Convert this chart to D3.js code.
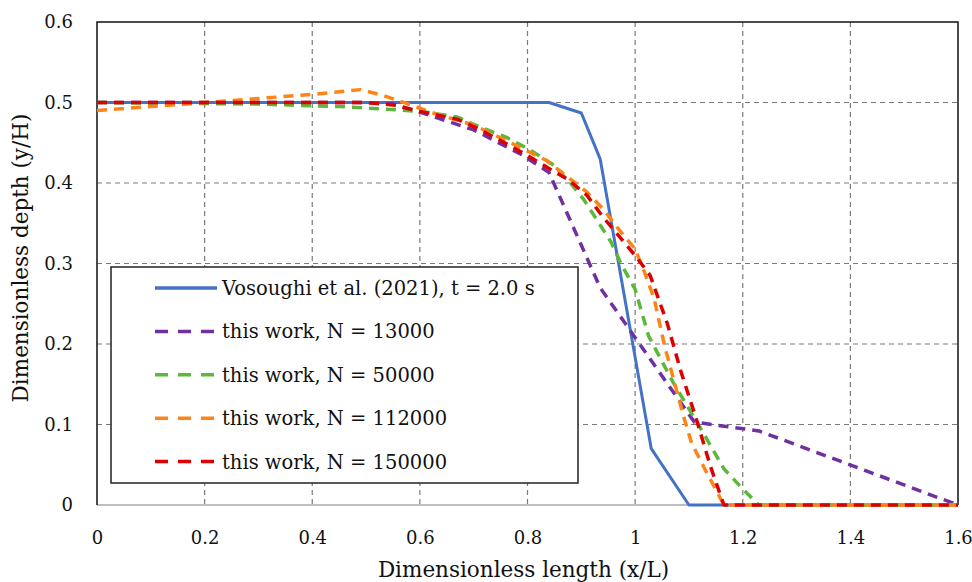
<!DOCTYPE html>
<html>
<head>
<meta charset="utf-8">
<script src="https://cdn.jsdelivr.net/npm/d3@7"></script>
<style>
  body { margin: 0; background: #fff; }
  text { font-family: "DejaVu Serif", "Liberation Serif", serif; fill: #111; }
</style>
</head>
<body>
<div id="chart"></div>
<script>
// values
var xTicks = [0, 0.2, 0.4, 0.6, 0.8, 1, 1.2, 1.4, 1.6];
var yTicks = [0, 0.1, 0.2, 0.3, 0.4, 0.5, 0.6];

var seriesNames = [
    'Vosoughi et al. (2021), t = 2.0 s',
    'this work, N = 13000',
    'this work, N = 50000',
    'this work, N = 112000',
    'this work, N = 150000'
];

var vosoughi = [[0, 0.5], [0.84, 0.5], [0.9, 0.487], [0.935, 0.43], [1.03, 0.07], [1.1, 0], [1.6, 0]];

var n13000 = [[0, 0.5], [0.5, 0.5], [0.55, 0.498], [0.6, 0.488], [0.7, 0.466], [0.79, 0.435],
    [0.84, 0.413], [0.935, 0.27], [1.11, 0.103], [1.23, 0.092], [1.6, 0]];

var n50000 = [[0, 0.5], [0.3, 0.498], [0.45, 0.495], [0.53, 0.492], [0.6, 0.489], [0.67, 0.482],
    [0.71, 0.47], [0.76, 0.457], [0.805, 0.441], [0.845, 0.424], [0.88, 0.4], [0.905, 0.379],
    [0.955, 0.327], [0.975, 0.298], [1.0, 0.268], [1.025, 0.21], [1.07, 0.153], [1.12, 0.097],
    [1.165, 0.045], [1.2, 0.02], [1.23, 0], [1.6, 0]];

var n112000 = [[0, 0.49], [0.1, 0.495], [0.2, 0.5], [0.3, 0.505], [0.4, 0.51], [0.49, 0.516],
    [0.53, 0.509], [0.575, 0.499], [0.62, 0.488], [0.7, 0.472], [0.75, 0.456], [0.79, 0.443],
    [0.835, 0.428], [0.87, 0.41], [0.91, 0.389], [0.94, 0.368], [0.97, 0.342], [1.0, 0.318],
    [1.018, 0.288], [1.035, 0.257], [1.055, 0.197], [1.07, 0.16], [1.09, 0.11], [1.105, 0.077],
    [1.13, 0.044], [1.15, 0.019], [1.165, 0], [1.6, 0]];

var n150000 = [[0, 0.5], [0.5, 0.5], [0.55, 0.497], [0.6, 0.489], [0.67, 0.479], [0.71, 0.467],
    [0.755, 0.451], [0.8, 0.434], [0.84, 0.418], [0.876, 0.404], [0.91, 0.385], [0.94, 0.358],
    [0.97, 0.334], [1.0, 0.31], [1.028, 0.285], [1.06, 0.225], [1.085, 0.166], [1.115, 0.104],
    [1.14, 0.048], [1.165, 0], [1.6, 0]];

var seriesColors = ['#4472C4', '#7030A0', '#5CB83A', '#FF8418', '#DC0000'];

var width = 972, height = 582;
var margin = { top: 22, right: 14, bottom: 77, left: 97 };
var w = width - margin.left - margin.right;
var h = height - margin.top - margin.bottom;

var svg = d3.select('#chart').append('svg')
    .attr('width', width)
    .attr('height', height);

var g = svg.append('g')
    .attr('transform', 'translate(' + margin.left + ',' + margin.top + ')');

var x = d3.scaleLinear().domain([0, 1.6]).range([0, w]);
var y = d3.scaleLinear().domain([0, 0.6]).range([h, 0]);

// grid lines
var grid = g.append('g').attr('class', 'grid');

grid.selectAll('line.gx')
    .data(xTicks.slice(1, -1))
    .enter()
    .append('line')
        .attr('class', 'gx')
        .attr('x1', function(d) { return x(d); })
        .attr('x2', function(d) { return x(d); })
        .attr('y1', 0)
        .attr('y2', h);

grid.selectAll('line.gy')
    .data(yTicks.slice(1, -1))
    .enter()
    .append('line')
        .attr('class', 'gy')
        .attr('x1', 0)
        .attr('x2', w)
        .attr('y1', function(d) { return y(d); })
        .attr('y2', function(d) { return y(d); });

grid.selectAll('line')
    .attr('stroke', '#7a7a7a')
    .attr('stroke-width', 1.2)
    .attr('stroke-dasharray', '5,4');

// bottom axis line (grey) and plot frame (black)
g.append('line')
    .attr('x1', 0).attr('x2', w)
    .attr('y1', h).attr('y2', h)
    .attr('stroke', '#aaa')
    .attr('stroke-width', 1.5);

g.append('path')
    .attr('d', 'M0,' + h + 'V0H' + w + 'V' + h)
    .attr('fill', 'none')
    .attr('stroke', '#111')
    .attr('stroke-width', 1.5);

// axes (labels only)
var xAxis = d3.axisBottom(x)
    .tickValues(xTicks)
    .tickSize(0)
    .tickPadding(26)
    .tickFormat(function(d) { return String(d); });

var yAxis = d3.axisLeft(y)
    .tickValues(yTicks)
    .tickSize(0)
    .tickPadding(24)
    .tickFormat(function(d) { return String(d); });

var gx = g.append('g')
    .attr('transform', 'translate(0,' + h + ')')
    .call(xAxis);
gx.select('.domain').remove();

var gy = g.append('g').call(yAxis);
gy.select('.domain').remove();

g.selectAll('.tick text')
    .attr('fill', '#111')
    .style('font-size', '18px')
    .style('font-family', '"DejaVu Serif", serif');

// axis titles
svg.append('text')
    .attr('x', margin.left + w / 2 - 4)
    .attr('y', 577)
    .attr('text-anchor', 'middle')
    .style('font-size', '21.5px')
    .text('Dimensionless length (x/L)');

svg.append('text')
    .attr('transform', 'translate(28,' + 258 + ') rotate(-90)')
    .attr('text-anchor', 'middle')
    .style('font-size', '21.5px')
    .text('Dimensionless depth (y/H)');

// curves
var line = d3.line()
    .x(function(d) { return x(d[0]); })
    .y(function(d) { return y(d[1]); });

var allSeries = [vosoughi, n13000, n50000, n112000, n150000];

g.selectAll('path.curve')
    .data(allSeries)
    .enter()
    .append('path')
        .attr('class', 'curve')
        .attr('d', line)
        .attr('fill', 'none')
        .attr('stroke', function(d, i) { return seriesColors[i]; })
        .attr('stroke-width', function(d, i) { return i == 0 ? 3 : 3.5; })
        .attr('stroke-dasharray', function(d, i) { return i == 0 ? null : '10,7'; })
        .attr('stroke-linejoin', 'round');

// legend
var legend = svg.append('g').attr('transform', 'translate(111,267)');

legend.append('rect')
    .attr('width', 467)
    .attr('height', 216)
    .attr('fill', '#fff')
    .attr('stroke', '#222')
    .attr('stroke-width', 1.5);

var rows = legend.selectAll('g.row')
    .data(seriesNames)
    .enter()
    .append('g')
        .attr('class', 'row')
        .attr('transform', function(d, i) { return 'translate(0,' + (21 + i * 43.4) + ')'; });

rows.append('line')
    .attr('x1', 44).attr('x2', 106)
    .attr('y1', 0).attr('y2', 0)
    .attr('stroke', function(d, i) { return seriesColors[i]; })
    .attr('stroke-width', 3.5)
    .attr('stroke-dasharray', function(d, i) { return i == 0 ? null : '13,10'; });

rows.append('text')
    .attr('x', 111)
    .attr('y', 0)
    .attr('dy', '0.36em')
    .style('font-size', '19.5px')
    .text(function(d) { return d; });
</script>
</body>
</html>
